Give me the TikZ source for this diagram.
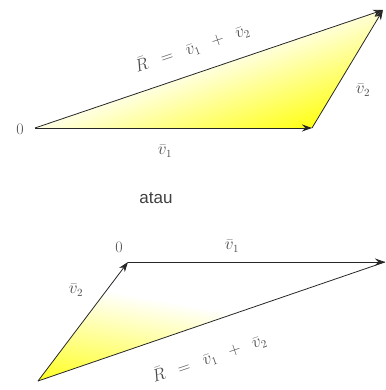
\documentclass[tikz,border=0pt]{standalone}
\usepackage{fontspec}
\newfontfamily\labsans{Liberation Sans}
\usetikzlibrary{arrows.meta}
\begin{document}
\begin{tikzpicture}[x=1pt,y=-1pt,
  vec/.style={draw=black!85, line width=0.8pt, -{Stealth[length=10pt,width=7pt]}},
  lbl/.style={text=black!70, font=\fontsize{16}{18}\selectfont, inner sep=1pt}]
\useasboundingbox (0,0) rectangle (385,390);
% top triangle
\coordinate (O1) at (35,128);
\coordinate (A1) at (312,128);
\coordinate (B1) at (383,10);
\begin{scope}[y=1pt]
\clip (O1) -- (A1) -- (B1) -- cycle;
\begin{scope}[transform canvas={rotate around={20:(243,-89)}}]
\shade[top color=yellow!8, middle color=yellow!45, bottom color=yellow!95] (-100,-152) rectangle (600,-52);
\end{scope}
\end{scope}
\draw[vec] (O1) -- (A1);
\draw[vec] (A1) -- (B1);
\draw[vec] (O1) -- (B1);
\node[lbl] (o1) at (20,129) {0};
\node[lbl] (v1a) at (165,151) {$\bar{v}_1$};
\node[lbl] (v2a) at (363,90) {$\bar{v}_2$};
\node[lbl, rotate=18.7] (ra) at (192,48) {$\bar{R}\hspace{9pt}=\hspace{9pt}\bar{v}_1\hspace{9pt}+\hspace{9pt}\bar{v}_2$};
% atau
\node[font=\labsans\fontsize{17}{20}\selectfont, text=black!75] (atau) at (156,198) {atau};
% bottom triangle
\coordinate (O2) at (128,262);
\coordinate (A2) at (385,262);
\coordinate (C2) at (38,381);
\begin{scope}[y=1pt]
\clip (O2) -- (A2) -- (C2) -- cycle;
\begin{scope}[transform canvas={rotate around={-10:(38,-381)}}]
\shade[top color=white, middle color=yellow!35, bottom color=yellow!95] (-300,-390) rectangle (600,-280);
\end{scope}
\end{scope}
\draw[vec] (C2) -- (O2);
\draw[vec] (O2) -- (A2);
\draw[draw=black!85, line width=0.8pt] (C2) -- (A2);
\node[lbl] (o2) at (119,247) {0};
\node[lbl] (v1b) at (232,246) {$\bar{v}_1$};
\node[lbl] (v2b) at (76,290) {$\bar{v}_2$};
\node[lbl, rotate=18.9] (rb) at (209,358) {$\bar{R}\hspace{9pt}=\hspace{9pt}\bar{v}_1\hspace{9pt}+\hspace{9pt}\bar{v}_2$};
\end{tikzpicture}
\end{document}
